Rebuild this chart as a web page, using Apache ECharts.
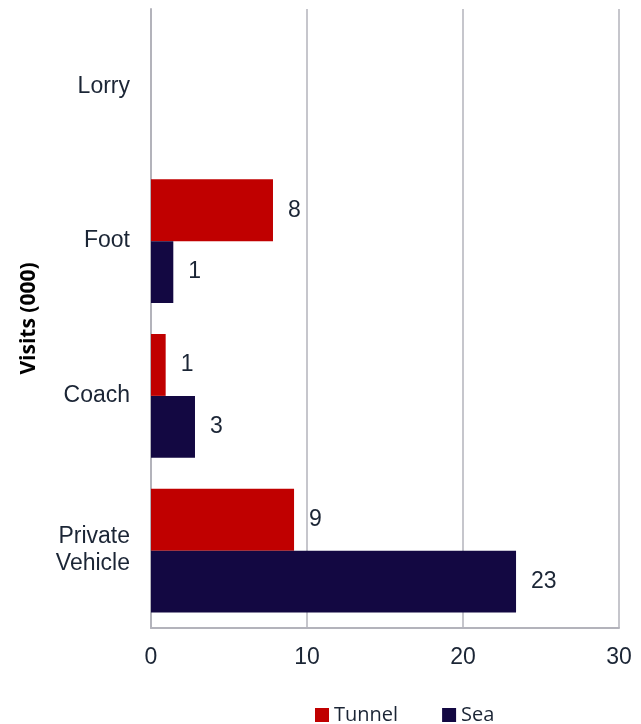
<!DOCTYPE html>
<html>
<head>
<meta charset="utf-8">
<script src="https://cdn.jsdelivr.net/npm/echarts@6/dist/echarts.min.js"></script>
<style>html,body{margin:0;padding:0;background:#fff}#c{width:641px;height:724px}</style>
</head>
<body>
<div id="c"></div>
<script>
const categories = ['Lorry', 'Foot', 'Coach', 'Private\nVehicle'];
const tunnel = [null, 7.82, 0.94, 9.17];
const sea = [null, 1.43, 2.82, 23.4];
const xTicks = { min: 0, max: 30, interval: 10 };

const chart = echarts.init(document.getElementById('c'));
const textColor = '#1b2535';
const arial = '"Liberation Sans", Arial, sans-serif';
const labelCfg = {
  show: true, position: 'right', distance: 15,
  fontFamily: arial, fontSize: 23, color: textColor,
  formatter: p => Math.round(p.value)
};
chart.setOption({
  animation: false,
  grid: { left: 151, right: 22, top: 9, bottom: 96, containLabel: false },
  legend: {
    top: 700, left: 310, itemWidth: 14, itemHeight: 14, itemGap: 44,
    icon: 'rect',
    textStyle: { fontFamily: '"Open Sans", "Noto Sans", sans-serif', fontSize: 20, color: textColor },
    data: ['Tunnel', 'Sea']
  },
  xAxis: {
    type: 'value', min: xTicks.min, max: xTicks.max, interval: xTicks.interval,
    axisLine: { show: true, lineStyle: { color: '#b3b3bb', width: 2 } },
    axisTick: { show: false },
    splitLine: { show: true, lineStyle: { color: '#b3b3bb', width: 1.5 } },
    axisLabel: { fontFamily: arial, fontSize: 23, color: textColor, margin: 18 }
  },
  yAxis: {
    type: 'category', data: categories, inverse: true,
    name: 'Visits (000)', nameLocation: 'middle', nameRotate: 90, nameGap: 111,
    nameTextStyle: { fontFamily: '"Open Sans", "Noto Sans", sans-serif', fontWeight: 'bold', fontSize: 21, color: '#000' },
    axisLine: { show: true, lineStyle: { color: '#b3b3bb', width: 2 } },
    axisTick: { show: false },
    axisLabel: { fontFamily: arial, fontSize: 23, color: textColor, margin: 21, lineHeight: 27, align: 'right' }
  },
  series: [
    { name: 'Tunnel', type: 'bar', data: tunnel, barGap: '0%', barCategoryGap: '20%',
      itemStyle: { color: '#c00000' }, label: labelCfg },
    { name: 'Sea', type: 'bar', data: sea, barGap: '0%', barCategoryGap: '20%',
      itemStyle: { color: '#130842' }, label: labelCfg }
  ]
});
</script>
</body>
</html>
